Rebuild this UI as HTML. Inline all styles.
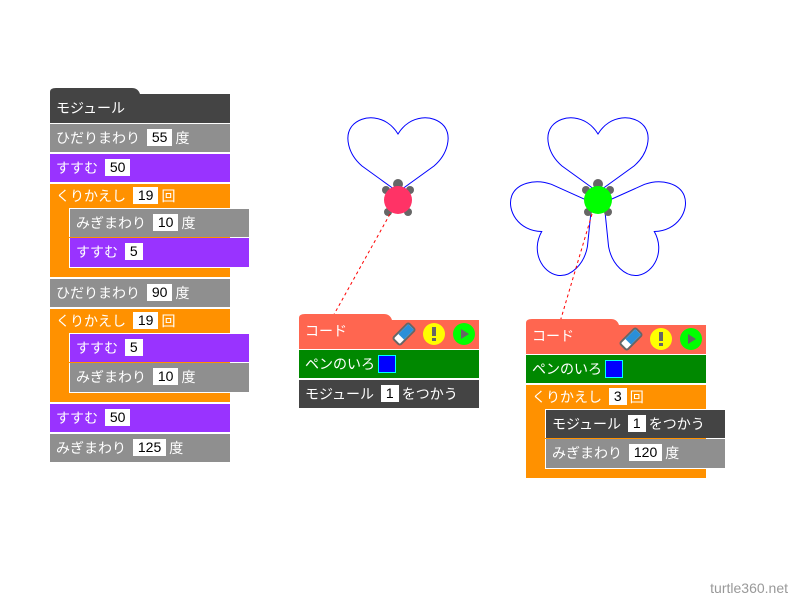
<!DOCTYPE html><html><head><meta charset="utf-8"><style>
body{margin:0;width:798px;height:599px;background:#fff;position:relative;overflow:hidden;font-family:"Liberation Sans","Noto Sans CJK JP",sans-serif;font-size:14px;color:#fff}
.b{position:absolute;box-sizing:border-box;padding:0 6px;line-height:28px;white-space:nowrap}
.g{background:#8f8f8f}.p{background:#9933ff}.o{background:#ff9100}.d{background:#444}.gr{background:#008800}.r{background:#ff6650}
.v{display:inline-block;background:#fff;color:#000;padding:0 5px;line-height:17px;margin:0 3px;vertical-align:1px}
.sw{display:inline-block;width:16px;height:16px;background:#00f;border:1px solid #0ff;vertical-align:-4px;margin-left:3px}
</style></head><body>
<svg width="798" height="599" style="position:absolute;left:0;top:0">
<defs><path id="h" d="M0,0 L-36,-26 C-50,-38 -54,-56 -46,-66 C-36,-78 -12,-78 0,-58 C12,-78 36,-78 46,-66 C54,-56 50,-38 36,-26 Z" fill="none" stroke="#00f" stroke-width="1"/></defs>
<use href="#h" transform="translate(398,192)"/>
<g transform="translate(598,199)"><use href="#h" transform="translate(0,-7)"/><use href="#h" transform="rotate(120) translate(0,-7)"/><use href="#h" transform="rotate(240) translate(0,-7)"/></g>
<g fill="#666"><circle cx="398" cy="184" r="5"/><circle cx="386" cy="190" r="4"/><circle cx="410" cy="190" r="4"/><circle cx="388" cy="212" r="4"/><circle cx="408" cy="212" r="4"/>
<circle cx="598" cy="184" r="5"/><circle cx="586" cy="190" r="4"/><circle cx="610" cy="190" r="4"/><circle cx="588" cy="212" r="4"/><circle cx="608" cy="212" r="4"/></g>
<circle cx="398" cy="200" r="14" fill="#ff3366"/><circle cx="598" cy="200" r="14" fill="#00ff00"/>
<line x1="390" y1="214" x2="332" y2="318" stroke="red" stroke-dasharray="3,3"/>
<line x1="592" y1="214" x2="560" y2="322" stroke="red" stroke-dasharray="3,3"/>
<path d="M50,94 V92 Q50,88 56,88 H132 Q138,88 140,94 Z" fill="#444"/>
<path d="M299,320 V318 Q299,314 305,314 H384 Q390,314 392,320 Z" fill="#ff6650"/>
<path d="M526,325 V323 Q526,319 532,319 H611 Q617,319 619,325 Z" fill="#ff6650"/>
</svg>
<div class="b d" style="left:50px;top:94px;width:180px;height:29px">モジュール</div>
<div class="b g" style="left:50px;top:124px;width:180px;height:28px">ひだりまわり <span class="v">55</span>度</div>
<div class="b p" style="left:50px;top:154px;width:180px;height:28px">すすむ <span class="v">50</span></div>
<div class="b o" style="left:50px;top:184px;width:180px;height:93px;line-height:24px">くりかえし <span class="v">19</span>回</div>
<div class="b g" style="left:69px;top:208px;width:181px;height:29px;border:1px solid #fff;border-bottom:0">みぎまわり <span class="v">10</span>度</div>
<div class="b p" style="left:69px;top:238px;width:181px;height:30px;border:1px solid #fff;border-top:0">すすむ <span class="v">5</span></div>
<div class="b g" style="left:50px;top:279px;width:180px;height:28px">ひだりまわり <span class="v">90</span>度</div>
<div class="b o" style="left:50px;top:309px;width:180px;height:93px;line-height:24px">くりかえし <span class="v">19</span>回</div>
<div class="b p" style="left:69px;top:333px;width:181px;height:29px;border:1px solid #fff;border-bottom:0">すすむ <span class="v">5</span></div>
<div class="b g" style="left:69px;top:363px;width:181px;height:30px;border:1px solid #fff;border-top:0">みぎまわり <span class="v">10</span>度</div>
<div class="b p" style="left:50px;top:404px;width:180px;height:28px">すすむ <span class="v">50</span></div>
<div class="b g" style="left:50px;top:434px;width:180px;height:28px">みぎまわり <span class="v">125</span>度</div>

<div class="b r" style="left:299px;top:320px;width:180px;height:29px;line-height:22px">コード</div>
<div class="b gr" style="left:299px;top:350px;width:180px;height:28px">ペンのいろ<span class="sw"></span></div>
<div class="b d" style="left:299px;top:380px;width:180px;height:28px">モジュール <span class="v">1</span>をつかう</div>

<div class="b r" style="left:526px;top:325px;width:180px;height:29px;line-height:22px">コード</div>
<div class="b gr" style="left:526px;top:355px;width:180px;height:28px">ペンのいろ<span class="sw"></span></div>
<div class="b o" style="left:526px;top:385px;width:180px;height:93px;line-height:24px">くりかえし <span class="v">3</span>回</div>
<div class="b d" style="left:545px;top:409px;width:181px;height:29px;border:1px solid #fff;border-bottom:0">モジュール <span class="v">1</span>をつかう</div>
<div class="b g" style="left:545px;top:439px;width:181px;height:30px;border:1px solid #fff;border-top:0">みぎまわり <span class="v">120</span>度</div>

<svg width="798" height="599" style="position:absolute;left:0;top:0">
<g transform="translate(404,334) rotate(-45)"><rect x="-11" y="-5" width="22" height="10" rx="2" fill="#fff" stroke="#666" stroke-width="2"/><rect x="-4" y="-4" width="14" height="8" fill="#2a8fd8"/></g>
<circle cx="434" cy="334" r="11" fill="#ffff00"/><rect x="432" y="327" width="4" height="9" fill="#666"/><rect x="432" y="338" width="4" height="3" fill="#666"/>
<circle cx="464" cy="334" r="11" fill="#00ff00"/><path d="M461,329 L469,334 L461,339Z" fill="#666"/>
<g transform="translate(631,339) rotate(-45)"><rect x="-11" y="-5" width="22" height="10" rx="2" fill="#fff" stroke="#666" stroke-width="2"/><rect x="-4" y="-4" width="14" height="8" fill="#2a8fd8"/></g>
<circle cx="661" cy="339" r="11" fill="#ffff00"/><rect x="659" y="332" width="4" height="9" fill="#666"/><rect x="659" y="343" width="4" height="3" fill="#666"/>
<circle cx="691" cy="339" r="11" fill="#00ff00"/><path d="M688,334 L696,339 L688,344Z" fill="#666"/>
</svg>
<div style="position:absolute;right:10px;top:580px;color:#999;font-size:14px">turtle360.net</div>
</body></html>
